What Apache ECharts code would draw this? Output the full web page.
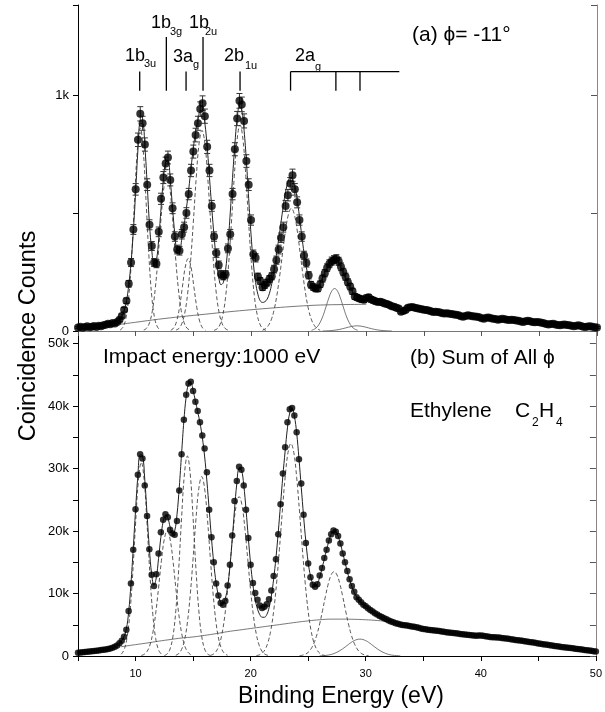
<!DOCTYPE html>
<html><head><meta charset="utf-8">
<script src="https://cdn.jsdelivr.net/npm/echarts@6/dist/echarts.min.js"></script>
<style>html,body{margin:0;padding:0;background:#fff}#c{width:605px;height:712px}</style>
</head><body><div id="c"></div>
<script>
// Binding energy grid (eV), 0.2 eV steps
const energy = [5,5.2,5.4,5.6,5.8,6,6.2,6.4,6.6,6.8,7,7.2,7.4,7.6,7.8,
8,8.2,8.4,8.6,8.8,9,9.2,9.4,9.6,9.8,
10,10.2,10.4,10.6,10.8,11,11.2,11.4,11.6,11.8,
12,12.2,12.4,12.6,12.8,13,13.2,13.4,13.6,13.8,
14,14.2,14.4,14.6,14.8,15,15.2,15.4,15.6,15.8,
16,16.2,16.4,16.6,16.8,17,17.2,17.4,17.6,17.8,
18,18.2,18.4,18.6,18.8,19,19.2,19.4,19.6,19.8,
20,20.2,20.4,20.6,20.8,21,21.2,21.4,21.6,21.8,
22,22.2,22.4,22.6,22.8,23,23.2,23.4,23.6,23.8,
24,24.2,24.4,24.6,24.8,25,25.2,25.4,25.6,25.8,
26,26.2,26.4,26.6,26.8,27,27.2,27.4,27.6,27.8,
28,28.2,28.4,28.6,28.8,29,29.2,29.4,29.6,29.8,
30,30.2,30.4,30.6,30.8,31,31.2,31.4,31.6,31.8,
32,32.2,32.4,32.6,32.8,33,33.2,33.4,33.6,33.8,
34,34.2,34.4,34.6,34.8,35,35.2,35.4,35.6,35.8,
36,36.2,36.4,36.6,36.8,37,37.2,37.4,37.6,37.8,
38,38.2,38.4,38.6,38.8,39,39.2,39.4,39.6,39.8,
40,40.2,40.4,40.6,40.8,41,41.2,41.4,41.6,41.8,
42,42.2,42.4,42.6,42.8,43,43.2,43.4,43.6,43.8,
44,44.2,44.4,44.6,44.8,45,45.2,45.4,45.6,45.8,
46,46.2,46.4,46.6,46.8,47,47.2,47.4,47.6,47.8,
48,48.2,48.4,48.6,48.8,49,49.2,49.4,49.6,49.8,
50];

// (a) phi = -11 deg : coincidence counts and errors
const topCounts = [15,18,14,17,20,16,18,21,17,22,20,24,27,31,29,
34,32,38,48,64,90,128,200,290,430,
600,810,920,880,790,620,450,360,290,285,
420,560,650,710,735,640,520,400,345,340,
410,440,500,580,680,760,830,880,940,965,
910,780,680,530,400,330,280,240,232,240,
350,410,580,770,900,975,960,890,720,620,
470,325,310,230,212,185,195,205,220,232,
262,300,345,395,440,530,575,625,660,600,
545,470,400,320,288,236,196,186,180,180,
198,222,245,268,285,296,302,306,295,272,
250,230,207,188,168,146,142,138,134,132,
140,143,134,130,126,123,124,121,116,114,
110,105,103,99,95,82,85,89,98,101,
102,99,96,94,92,90,89,87,84,81,
82,80,78,75,74,75,73,72,70,69,
67,63,60,64,67,65,62,61,60,58,
54,52,56,57,54,52,51,48,50,52,
50,48,47,48,47,45,43,40,38,41,
43,41,38,37,38,37,35,33,30,28,
30,31,28,25,24,27,28,25,24,22,
20,22,24,21,18,17,19,20,18,16,
15];
const topErr = [3.9,4.2,3.7,4.1,4.5,4,4.2,4.6,4.1,4.7,4.5,4.9,5.2,5.6,5.4,
5.8,5.7,6.2,6.9,8,9.5,11.3,14.1,17,20.7,
24.5,28.5,30.3,29.7,28.1,24.9,21.2,19,17,16.9,
20.5,23.7,25.5,26.6,27.1,25.3,22.8,20,18.6,18.4,
20.2,21,22.4,24.1,26.1,27.6,28.8,29.7,30.7,31.1,
30.2,27.9,26.1,23,20,18.2,16.7,15.5,15.2,15.5,
18.7,20.2,24.1,27.7,30,31.2,31,29.8,26.8,24.9,
21.7,18,17.6,15.2,14.6,13.6,14,14.3,14.8,15.2,
16.2,17.3,18.6,19.9,21,23,24,25,25.7,24.5,
23.3,21.7,20,17.9,17,15.4,14,13.6,13.4,13.4,
14.1,14.9,15.7,16.4,16.9,17.2,17.4,17.5,17.2,16.5,
15.8,15.2,14.4,13.7,13,12.1,11.9,11.7,11.6,11.5,
11.8,12,11.6,11.4,11.2,11.1,11.1,11,10.8,10.7,
10.5,10.2,10.1,9.9,9.7,9.1,9.2,9.4,9.9,10,
10.1,9.9,9.8,9.7,9.6,9.5,9.4,9.3,9.2,9,
9.1,8.9,8.8,8.7,8.6,8.7,8.5,8.5,8.4,8.3,
8.2,7.9,7.7,8,8.2,8.1,7.9,7.8,7.7,7.6,
7.3,7.2,7.5,7.5,7.3,7.2,7.1,6.9,7.1,7.2,
7.1,6.9,6.9,6.9,6.9,6.7,6.6,6.3,6.2,6.4,
6.6,6.4,6.2,6.1,6.2,6.1,5.9,5.7,5.5,5.3,
5.5,5.6,5.3,5,4.9,5.2,5.3,5,4.9,4.7,
4.5,4.7,4.9,4.6,4.2,4.1,4.4,4.5,4.2,4,
3.9];

// (b) sum of all phi : coincidence counts
const botCounts = [540,570,610,660,700,740,780,820,860,900,960,1010,1060,1130,1210,
1340,1480,1700,2050,2450,3100,4200,7200,11600,17000,
23500,29000,32300,31600,27300,22400,17100,13000,11200,13100,
16400,19800,21800,22700,22200,20200,19600,19400,21600,26500,
32300,37800,41800,43600,43900,42400,40700,39200,37400,35300,
33200,29400,23400,19000,15000,11600,9700,8500,8200,8800,
11300,14600,19300,24800,28000,30300,29800,27300,23400,18900,
14600,11700,10100,9000,8100,7700,7900,8300,9100,10500,
12800,15500,19500,24300,29200,33400,37400,39500,39700,38500,
35800,31500,27600,22600,18100,14800,12600,11400,11100,11500,
12900,14100,15700,17000,18500,19500,20100,19900,19200,18000,
16400,15000,13600,12300,11200,10300,9400,9000,8600,8200,
7950,7650,7380,7120,6860,6650,6420,6250,6060,5880,
5700,5520,5400,5260,5150,5060,4980,4920,4870,4810,
4740,4670,4600,4520,4420,4330,4280,4200,4150,4110,
4070,4040,3990,3920,3880,3810,3760,3710,3680,3640,
3590,3530,3480,3440,3400,3370,3330,3290,3260,3280,
3300,3230,3160,3110,3060,3020,3010,2980,2950,2900,
2860,2820,2760,2700,2640,2580,2540,2490,2430,2370,
2320,2260,2210,2150,2080,2010,1950,1900,1840,1790,
1730,1680,1620,1560,1510,1460,1410,1370,1320,1280,
1230,1180,1130,1080,1030,980,930,880,830,780,
730];

// Fitted total curves
const topFit = [[8.6,45],[8.8,60],[9,85],[9.2,125],[9.4,195],[9.6,290],[9.8,425],[10,590],[10.2,770],[10.4,880],[10.6,880],[10.8,780],[11,620],[11.2,450],[11.4,340],[11.6,280],[11.8,300],[12,390],[12.2,520],[12.4,640],[12.6,715],[12.8,720],[13,640],[13.2,520],[13.4,410],[13.6,345],[13.8,345],[14,390],[14.2,450],[14.4,520],[14.6,600],[14.8,690],[15,775],[15.2,845],[15.4,895],[15.6,930],[15.8,930],[16,880],[16.2,780],[16.4,650],[16.6,520],[16.8,400],[17,300],[17.2,230],[17.4,196],[17.6,205],[17.8,260],[18,360],[18.2,500],[18.4,650],[18.6,790],[18.8,900],[19,950],[19.2,935],[19.4,850],[19.6,720],[19.8,560],[20,410],[20.2,290],[20.4,205],[20.6,155],[20.8,128],[21,121],[21.2,124],[21.4,135],[21.6,160],[21.8,200],[22,255],[22.2,320],[22.4,390],[22.6,460],[22.8,530],[23,590],[23.2,630],[23.4,650],[23.6,645],[23.8,615],[24,560],[24.2,485],[24.4,405],[24.6,330],[24.8,270],[25,225],[25.2,195],[25.4,180],[25.6,180],[25.8,190],[26,205],[26.2,225],[26.4,248],[26.6,268],[26.8,285],[27,296],[27.2,300],[27.4,298],[27.6,287],[27.8,268],[28,245],[28.2,222],[28.4,200],[28.6,180],[28.8,165],[29,152],[29.2,143],[29.4,137],[29.6,133],[29.8,131],[30,130]];
const botFit = [[8.6,2050],[8.8,2450],[9,3100],[9.2,4300],[9.4,7000],[9.6,11500],[9.8,17200],[10,23300],[10.2,28800],[10.4,32200],[10.6,32100],[10.8,28300],[11,22700],[11.2,17200],[11.4,13100],[11.6,11300],[11.8,12500],[12,15600],[12.2,19000],[12.4,21500],[12.6,22500],[12.8,22100],[13,20700],[13.2,19600],[13.4,20000],[13.6,22600],[13.8,27000],[14,32400],[14.2,37600],[14.4,41500],[14.6,43500],[14.8,43700],[15,42500],[15.2,40800],[15.4,39100],[15.6,37300],[15.8,35000],[16,32000],[16.2,28000],[16.4,23400],[16.6,18800],[16.8,14800],[17,11700],[17.2,9700],[17.4,8600],[17.6,8400],[17.8,9200],[18,11100],[18.2,14300],[18.4,18600],[18.6,23400],[18.8,27600],[19,30000],[19.2,29800],[19.4,27400],[19.6,23400],[19.8,18900],[20,14700],[20.2,11400],[20.4,9000],[20.6,7500],[20.8,6600],[21,6200],[21.2,6200],[21.4,6600],[21.6,7700],[21.8,9600],[22,12300],[22.2,15700],[22.4,19800],[22.6,24300],[22.8,28800],[23,32800],[23.2,36500],[23.4,38900],[23.6,39600],[23.8,38400],[24,35700],[24.2,31600],[24.4,27000],[24.6,22400],[24.8,18300],[25,15000],[25.2,12800],[25.4,11600],[25.6,11200],[25.8,11600],[26,12600],[26.2,14000],[26.4,15500],[26.6,17000],[26.8,18400],[27,19500],[27.2,20000],[27.4,19900],[27.6,19200],[27.8,18000],[28,16500],[28.2,15000],[28.4,13500],[28.6,12200],[28.8,11100],[29,10200],[29.2,9500],[29.4,8900],[29.6,8500],[29.8,8200],[30,7950]];

// Fitted components, panel (a)
const topG1 = [[8.65,4],[8.9,16],[9.15,53],[9.4,145],[9.65,316],[9.9,551],[10.15,770],[10.4,860],[10.65,770],[10.9,551],[11.15,316],[11.4,145],[11.65,53],[11.9,16],[12.15,4]];
const topG2 = [[10.7,4],[10.95,12],[11.2,35],[11.45,86],[11.7,180],[11.95,317],[12.2,477],[12.45,609],[12.7,660],[12.95,609],[13.2,477],[13.45,317],[13.7,180],[13.95,86],[14.2,35],[14.45,12],[14.7,4]];
const topG3 = [[13.05,3],[13.3,13],[13.55,41],[13.8,100],[14.05,186],[14.3,271],[14.55,307],[14.8,271],[15.05,186],[15.3,100],[15.55,41],[15.8,13],[16.05,3]];
const topG4 = [[13.5,4],[13.75,11],[14,31],[14.25,74],[14.5,156],[14.75,288],[15,462],[15.25,649],[15.5,795],[15.75,850],[16,795],[16.25,649],[16.5,462],[16.75,288],[17,156],[17.25,74],[17.5,31],[17.75,11],[18,4]];
const topG5 = [[16.8,3],[17.05,9],[17.3,26],[17.55,66],[17.8,145],[18.05,277],[18.3,457],[18.55,655],[18.8,813],[19.05,873],[19.3,813],[19.55,655],[19.8,457],[20.05,277],[20.3,145],[20.55,66],[20.8,26],[21.05,9],[21.3,3]];
const topG6 = [[21,3],[21.25,10],[21.5,23],[21.75,47],[22,89],[22.25,153],[22.5,238],[22.75,335],[23,428],[23.25,495],[23.5,520],[23.75,495],[24,428],[24.25,335],[24.5,238],[24.75,153],[25,89],[25.25,47],[25.5,23],[25.75,10],[26,3]];
const topG7 = [[25.25,3],[25.5,8],[25.75,18],[26,37],[26.25,65],[26.5,102],[26.75,140],[27,169],[27.25,180],[27.5,169],[27.75,140],[28,102],[28.25,65],[28.5,37],[28.75,18],[29,8],[29.25,3]];
const topG8 = [[26.2,0],[26.7,1],[27.2,3],[27.7,7],[28.2,13],[28.7,19],[29.2,22],[29.7,19],[30.2,13],[30.7,7],[31.2,3],[31.7,1],[32.2,0]];
const topBg = [[8.6,28],[10,37],[12,50],[14,61],[16,71],[18,81],[20,90],[22,98],[24,105],[26,110],[28,112],[30,113]];

// Fitted components, panel (b)
const botG1 = [[8.75,280],[9,970],[9.25,2820],[9.5,6670],[9.75,13040],[10,21100],[10.25,28130],[10.5,31000],[10.75,28130],[11,21100],[11.25,13040],[11.5,6670],[11.75,2820],[12,970],[12.25,280]];
const botG2 = [[10.5,80],[10.75,270],[11,730],[11.25,1750],[11.5,3690],[11.75,6790],[12,10890],[12.25,15270],[12.5,18700],[12.75,20000],[13,18700],[13.25,15270],[13.5,10890],[13.75,6790],[14,3690],[14.25,1750],[14.5,730],[14.75,270],[15,80]];
const botG3 = [[12.5,80],[12.75,340],[13,1130],[13.25,3140],[13.5,7240],[13.75,13900],[14,22090],[14.25,29150],[14.5,32000],[14.75,29150],[15,22090],[15.25,13900],[15.5,7240],[15.75,3140],[16,1130],[16.25,340],[16.5,80]];
const botG4 = [[13.5,120],[13.75,380],[14,1050],[14.25,2510],[14.5,5280],[14.75,9730],[15,15610],[15.25,21900],[15.5,26830],[15.75,28700],[16,26830],[16.25,21900],[16.5,15610],[16.75,9730],[17,5280],[17.25,2510],[17.5,1050],[17.75,380],[18,120]];
const botG5 = [[16.5,100],[16.75,280],[17,730],[17.25,1680],[17.5,3440],[17.75,6350],[18,10480],[18.25,15480],[18.5,20430],[18.75,24120],[19,25500],[19.25,24120],[19.5,20430],[19.75,15480],[20,10480],[20.25,6350],[20.5,3440],[20.75,1680],[21,730],[21.25,280],[21.5,100]];
const botG6 = [[20.5,70],[20.75,180],[21,450],[21.25,1020],[21.5,2140],[21.75,4080],[22,7170],[22.25,11530],[22.5,17030],[22.75,23050],[23,28590],[23.25,32570],[23.5,34000],[23.75,32570],[24,28590],[24.25,23050],[24.5,17030],[24.75,11530],[25,7170],[25.25,4080],[25.5,2140],[25.75,1020],[26,450],[26.25,180],[26.5,70]];
const botG7 = [[24.25,50],[24.5,130],[24.75,280],[25,590],[25.25,1150],[25.5,2040],[25.75,3370],[26,5140],[26.25,7290],[26.5,9540],[26.75,11570],[27,12990],[27.25,13500],[27.5,12990],[27.75,11570],[28,9540],[28.25,7290],[28.5,5140],[28.75,3370],[29,2040],[29.25,1150],[29.5,590],[29.75,280],[30,130],[30.25,50]];
const botG8 = [[26,30],[26.5,90],[27,250],[27.5,600],[28,1150],[28.5,1850],[29,2460],[29.5,2700],[30,2460],[30.5,1850],[31,1150],[31.5,600],[32,250],[32.5,90],[33,30]];
const botBg = [[8.75,1480],[9.25,1620],[10,1820],[11,2080],[12,2370],[13,2630],[14,2880],[15,3050],[16,3300],[17,3580],[18,3900],[19,4150],[20,4400],[21,4650],[22,4900],[23,5150],[24,5400],[25,5620],[26,5800],[27,5900],[28,5900],[29,5870],[30,5800],[31,5680],[32,5500],[32.5,5300]];

// Orbital markers (eV) and their bar tops (counts)
const stickE = [10.35, 12.66, 14.37, 15.84, 19.05];
const stickTop = [1099, 1245, 1099, 1245, 1099];
const stickBase = 1018;
const ag2E = [23.43, 27.36, 29.45];
const ag2End = 32.86;
const ag2Level = 1099;

// Axis ranges / ticks
const xMin = 5, xMax = 50, xStep = 5;
const topMax = 1381, topStep = 500;
const botMax = 52000, botStep = 5000;

const FONT = '"Liberation Sans", Arial, sans-serif';
const topPts = energy.map((e, i) => [e, topCounts[i], topErr[i]]);
const botPts = energy.map((e, i) => [e, botCounts[i]]);

function gLine(data, xi, yi, dashed, width, color) {
  return { type: 'line', xAxisIndex: xi, yAxisIndex: yi, data: data, showSymbol: false, smooth: 0.4,
    silent: true, z: 2,
    lineStyle: { width: width, color: color, type: dashed ? [4, 2.5] : 'solid' } };
}

const chart = echarts.init(document.getElementById('c'), null, { renderer: 'canvas' });
const baseX = {
  type: 'value', min: xMin, max: xMax, interval: xStep,
  splitLine: { show: false }
};
const option = {
  animation: false,
  backgroundColor: '#fff',
  grid: [
    { left: 78, width: 519, top: 5, height: 326 },
    { left: 78, width: 519, top: 331, height: 325 }
  ],
  xAxis: [
    Object.assign({}, baseX, { gridIndex: 0, position: 'bottom',
      axisLine: { show: true, lineStyle: { color: '#000', width: 1 } },
      axisTick: { show: true, inside: false, length: 5, lineStyle: { color: '#000' } },
      axisLabel: { show: false } }),
    Object.assign({}, baseX, { gridIndex: 0, position: 'top',
      axisLine: { show: true, lineStyle: { color: '#777', width: 1 } },
      axisTick: { show: true, inside: true, length: 5, lineStyle: { color: '#555' } },
      axisLabel: { show: false } }),
    Object.assign({}, baseX, { gridIndex: 1, position: 'bottom',
      axisLine: { show: true, lineStyle: { color: '#000', width: 1.2 } },
      axisTick: { show: true, inside: false, length: 5, lineStyle: { color: '#000' } },
      axisLabel: { show: true, fontSize: 11, fontFamily: FONT, color: '#000', margin: 12,
        formatter: v => (v % 10 === 0 ? String(v) : '') } })
  ],
  yAxis: [
    { type: 'value', gridIndex: 0, position: 'left', min: 0, max: topMax, interval: topStep,
      splitLine: { show: false },
      axisLine: { show: true, lineStyle: { color: '#000' } },
      axisTick: { show: true, inside: false, length: 5, lineStyle: { color: '#000' } },
      axisLabel: { fontSize: 13, fontFamily: FONT, color: '#000', margin: 9,
        formatter: v => (v === 0 ? '0' : (v === 1000 ? '1k' : '')) } },
    { type: 'value', gridIndex: 0, position: 'right', min: 0, max: topMax, interval: topStep,
      splitLine: { show: false },
      axisLine: { show: true, lineStyle: { color: '#888' } },
      axisTick: { show: true, inside: true, length: 6, lineStyle: { color: '#555' } },
      axisLabel: { show: false } },
    { type: 'value', gridIndex: 1, position: 'left', min: 0, max: botMax, interval: botStep,
      splitLine: { show: false },
      axisLine: { show: true, lineStyle: { color: '#000' } },
      axisTick: { show: true, inside: false, length: 5, lineStyle: { color: '#000' } },
      axisLabel: { fontSize: 13, fontFamily: FONT, color: '#000', margin: 9,
        formatter: v => (v === 0 ? '0' : (v % 10000 === 0 && v <= 50000 ? (v / 1000) + 'k' : '')) } },
    { type: 'value', gridIndex: 1, position: 'right', min: 0, max: botMax, interval: botStep,
      splitLine: { show: false },
      axisLine: { show: true, lineStyle: { color: '#888' } },
      axisTick: { show: true, inside: true, length: 6, lineStyle: { color: '#555' } },
      axisLabel: { show: false } }
  ],
  series: [
    gLine(topBg, 0, 0, false, 0.8, '#555'),
    gLine(topG1, 0, 0, true, 0.9, '#444'),
    gLine(topG2, 0, 0, true, 0.9, '#444'),
    gLine(topG3, 0, 0, true, 0.9, '#444'),
    gLine(topG4, 0, 0, true, 0.9, '#444'),
    gLine(topG5, 0, 0, true, 0.9, '#444'),
    gLine(topG6, 0, 0, true, 0.9, '#444'),
    gLine(topG7, 0, 0, false, 0.8, '#555'),
    gLine(topG8, 0, 0, false, 0.8, '#555'),
    gLine(topFit, 0, 0, false, 1, '#222'),
    gLine(botBg, 2, 2, false, 0.8, '#555'),
    gLine(botG1, 2, 2, true, 0.9, '#444'),
    gLine(botG2, 2, 2, true, 0.9, '#444'),
    gLine(botG3, 2, 2, true, 0.9, '#444'),
    gLine(botG4, 2, 2, true, 0.9, '#444'),
    gLine(botG5, 2, 2, true, 0.9, '#444'),
    gLine(botG6, 2, 2, true, 0.9, '#444'),
    gLine(botG7, 2, 2, true, 0.9, '#444'),
    gLine(botG8, 2, 2, false, 0.8, '#555'),
    gLine(botFit, 2, 2, false, 1, '#222'),
    { type: 'custom', xAxisIndex: 0, yAxisIndex: 0, data: topPts, silent: true, z: 3,
      encode: { x: 0, y: 1 },
      renderItem: function (params, api) {
        const x = api.value(0), y = api.value(1), e = api.value(2);
        const lo = api.coord([x, y - e]), hi = api.coord([x, y + e]);
        const w = 3, st = { stroke: '#333', lineWidth: 1 };
        return { type: 'group', children: [
          { type: 'line', shape: { x1: lo[0], y1: lo[1], x2: hi[0], y2: hi[1] }, style: st },
          { type: 'line', shape: { x1: lo[0] - w, y1: lo[1], x2: lo[0] + w, y2: lo[1] }, style: st },
          { type: 'line', shape: { x1: hi[0] - w, y1: hi[1], x2: hi[0] + w, y2: hi[1] }, style: st }
        ] };
      } },
    { type: 'scatter', xAxisIndex: 0, yAxisIndex: 0, data: topPts, symbol: 'circle', symbolSize: 8,
      itemStyle: { color: '#000' }, silent: true, z: 4 },
    { type: 'scatter', xAxisIndex: 2, yAxisIndex: 2, data: botPts, symbol: 'circle', symbolSize: 6.5,
      itemStyle: { color: '#000' }, silent: true, z: 4 },
    { type: 'custom', xAxisIndex: 0, yAxisIndex: 0, silent: true, z: 5,
      data: stickE.map((e, i) => [e, stickTop[i]]), encode: { x: 0, y: 1 },
      renderItem: function (params, api) {
        const x = api.value(0), t = api.value(1);
        const a = api.coord([x, stickBase]), b = api.coord([x, t]);
        return { type: 'line', shape: { x1: a[0], y1: a[1], x2: b[0], y2: b[1] },
          style: { stroke: '#000', lineWidth: 1.3 } };
      } },
    { type: 'custom', xAxisIndex: 0, yAxisIndex: 0, silent: true, z: 5,
      data: ag2E.map(e => [e, ag2Level]), encode: { x: 0, y: 1 },
      renderItem: function (params, api) {
        const x = api.value(0), t = api.value(1);
        const a = api.coord([x, stickBase]), b = api.coord([x, t]);
        const kids = [{ type: 'line', shape: { x1: a[0], y1: a[1], x2: b[0], y2: b[1] },
          style: { stroke: '#000', lineWidth: 1.3 } }];
        if (params.dataIndex === 0) {
          const c = api.coord([ag2End, t]);
          kids.push({ type: 'line', shape: { x1: b[0], y1: b[1], x2: c[0], y2: c[1] },
            style: { stroke: '#000', lineWidth: 1.3 } });
        }
        return { type: 'group', children: kids };
      } }
  ],
  graphic: []
};

function txt(s, x, y, size, extra) {
  return Object.assign({ type: 'text', x: x, y: y, silent: true, z: 10,
    style: { text: s, font: size + 'px ' + FONT, fill: '#000', align: 'left', verticalAlign: 'middle',
      textAlign: 'left', textVerticalAlign: 'middle' } }, extra || {});
}
const G = option.graphic;
G.push(txt('(a) \u03D5= -11\u00B0', 412, 35, 21));
G.push(txt('Impact energy:1000 eV', 103, 357, 21));
G.push(txt('(b) Sum of All \u03D5', 410, 358, 21));
G.push(txt('Ethylene', 410, 411, 21));
G.push(txt('C', 515, 411, 21));
G.push(txt('2', 532, 423, 12));
G.push(txt('H', 539, 411, 21));
G.push(txt('4', 556, 423, 12));
// orbital labels
G.push(txt('1b', 125, 56, 18)); G.push(txt('3u', 144, 64, 11));
G.push(txt('1b', 151, 23.5, 18)); G.push(txt('3g', 170, 32, 11));
G.push(txt('3a', 173, 57, 18)); G.push(txt('g', 193, 65, 11));
G.push(txt('1b', 189, 23.5, 18)); G.push(txt('2u', 205, 32, 11));
G.push(txt('2b', 224, 56, 18)); G.push(txt('1u', 245, 66, 11));
G.push(txt('2a', 295, 56, 18)); G.push(txt('g', 315, 67, 11));
// axis titles
G.push({ type: 'text', x: 29, y: 336, rotation: Math.PI / 2, silent: true, z: 10,
  style: { text: 'Coincidence Counts', font: '23.5px ' + FONT, fill: '#000', align: 'center', verticalAlign: 'middle',
    textAlign: 'center', textVerticalAlign: 'middle' } });
G.push({ type: 'text', x: 341, y: 697, silent: true, z: 10,
  style: { text: 'Binding Energy (eV)', font: '23px ' + FONT, fill: '#000', align: 'center', verticalAlign: 'middle',
    textAlign: 'center', textVerticalAlign: 'middle' } });

chart.setOption(option);
</script>
</body></html>
